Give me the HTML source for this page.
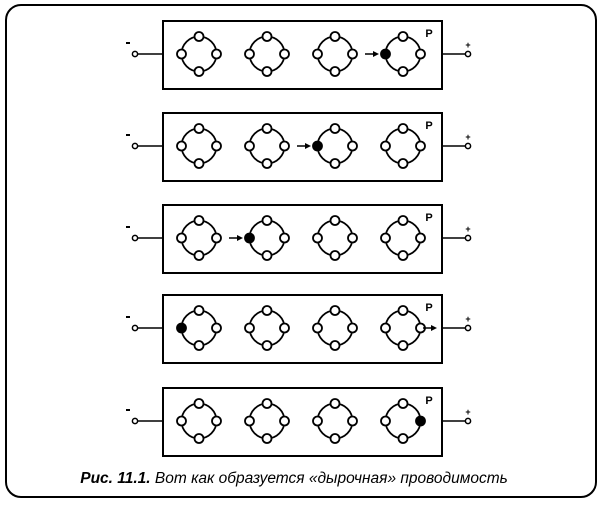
<!DOCTYPE html>
<html><head><meta charset="utf-8"><style>body{margin:0;background:#fff}svg{display:block}</style></head><body>
<svg width="600" height="505" viewBox="0 0 600 505" xmlns="http://www.w3.org/2000/svg" font-family="Liberation Sans, sans-serif">
<defs>
<g id="ring" stroke="#000" stroke-width="1.8" fill="#fff">
<circle r="17.5" fill="none"/>
<circle cx="0" cy="-17.5" r="4.5"/>
<circle cx="0" cy="17.5" r="4.5"/>
<circle cx="-17.5" cy="0" r="4.5"/>
<circle cx="17.5" cy="0" r="4.5"/>
</g>
<g id="row">
<rect x="163" y="-33" width="279" height="68" fill="none" stroke="#000" stroke-width="2"/>
<line x1="138" y1="0" x2="163" y2="0" stroke="#000" stroke-width="1.5"/>
<line x1="442" y1="0" x2="465" y2="0" stroke="#000" stroke-width="1.5"/>
<circle cx="135" cy="0" r="2.6" fill="#fff" stroke="#000" stroke-width="1.5"/>
<circle cx="468" cy="0" r="2.6" fill="#fff" stroke="#000" stroke-width="1.5"/>
<line x1="126" y1="-11" x2="130" y2="-11" stroke="#000" stroke-width="2"/>
<text x="468" y="-6" font-size="9" font-weight="bold" text-anchor="middle">+</text>
<text x="429" y="-17" font-size="11" font-weight="bold" text-anchor="middle">P</text>
<use href="#ring" x="199"/><use href="#ring" x="267"/><use href="#ring" x="335"/><use href="#ring" x="403"/>
</g>
<g id="arr"><line x1="-14" y1="0" x2="-5" y2="0" stroke="#000" stroke-width="1.5"/><path d="M-6,-3 L0,0 L-6,3Z" fill="#000"/></g>
</defs>
<rect x="6" y="5" width="590" height="492" rx="15" fill="none" stroke="#000" stroke-width="2"/>
<g transform="translate(0,54)"><use href="#row"/><circle cx="385.5" cy="0" r="4.5"/><use href="#arr" x="379"/></g>
<g transform="translate(0,146)"><use href="#row"/><circle cx="317.5" cy="0" r="4.5"/><use href="#arr" x="311"/></g>
<g transform="translate(0,238)"><use href="#row"/><circle cx="249.5" cy="0" r="4.5"/><use href="#arr" x="243"/></g>
<g transform="translate(0,328)"><use href="#row"/><circle cx="181.5" cy="0" r="4.5"/><use href="#arr" x="437"/></g>
<g transform="translate(0,421)"><use href="#row"/><circle cx="420.5" cy="0" r="4.5"/></g>
<text x="294" y="483" font-size="15.5" font-style="italic" text-anchor="middle"><tspan font-weight="bold">Рис. 11.1.</tspan> Вот как образуется «дырочная» проводимость</text>
</svg>
</body></html>
